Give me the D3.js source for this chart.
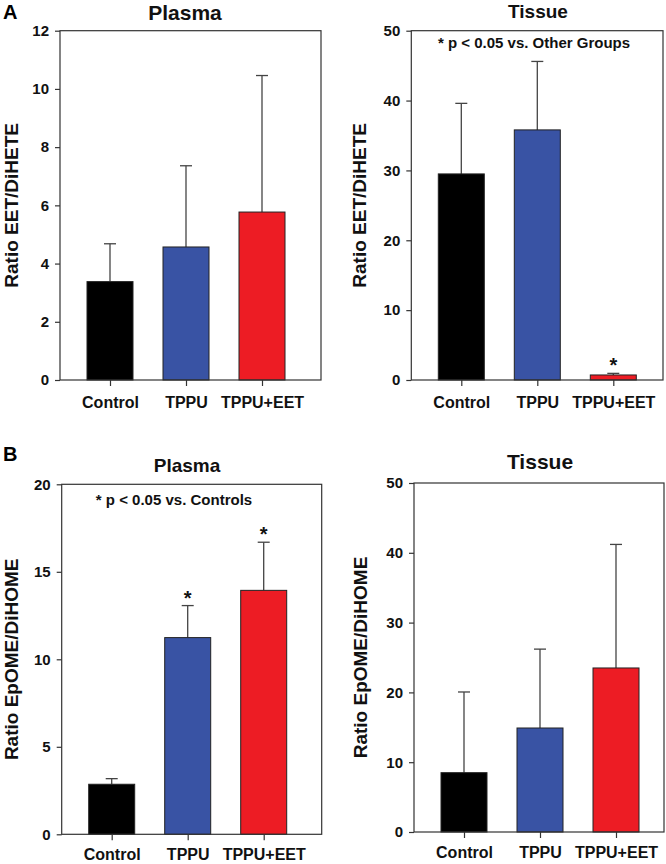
<!DOCTYPE html>
<html>
<head>
<meta charset="utf-8">
<script src="https://cdn.jsdelivr.net/npm/d3@7"></script>
<style>
  html, body { margin: 0; padding: 0; background: #fff; }
  svg { display: block; font-family: "Liberation Sans", Arial, sans-serif; }
</style>
</head>
<body>
<svg id="chart" width="666" height="864"></svg>
<script>
// ---------- DATA ----------
const categories = ["Control", "TPPU", "TPPU+EET"];
const colors = ["#000000", "#3953A4", "#ED1C24"];

// Panel A – Plasma (Ratio EET/DiHETE)
const plasmaEETMean = [3.38, 4.57, 5.77];
const plasmaEETSD   = [1.30, 2.79, 4.69];
const plasmaEETTicks = [0, 2, 4, 6, 8, 10, 12];

// Panel A – Tissue (Ratio EET/DiHETE)
const tissueEETMean = [29.5, 35.8, 0.72];
const tissueEETSD   = [10.1, 9.8, 0.23];
const tissueEETTicks = [0, 10, 20, 30, 40, 50];
const tissueEETSig  = [false, false, true];

// Panel B – Plasma (Ratio EpOME/DiHOME)
const plasmaEpOMEMean = [2.86, 11.24, 13.94];
const plasmaEpOMESD   = [0.32, 1.83, 2.75];
const plasmaEpOMETicks = [0, 5, 10, 15, 20];
const plasmaEpOMESig  = [false, true, true];

// Panel B – Tissue (Ratio EpOME/DiHOME)
const tissueEpOMEMean = [8.5, 14.9, 23.5];
const tissueEpOMESD   = [11.56, 11.3, 17.7];
const tissueEpOMETicks = [0, 10, 20, 30, 40, 50];

// ---------- LAYOUT ----------
const panels = [
  { title: "Plasma", titleSize: 21, titleX: 185, titleY: 19.5, yLabel: "Ratio EET/DiHETE", yLabelX: 17.5,
    mean: plasmaEETMean, sd: plasmaEETSD, ticks: plasmaEETTicks, sig: null, note: null, xPad: 11,
    x0: 60, x1: 321, y0: 30.7, y1: 380 },
  { title: "Tissue", titleSize: 19, titleX: 538, titleY: 17.5, yLabel: "Ratio EET/DiHETE", yLabelX: 366,
    mean: tissueEETMean, sd: tissueEETSD, ticks: tissueEETTicks, sig: tissueEETSig, xPad: 11,
    note: "* p < 0.05 vs. Other Groups", noteX: 534, noteY: 48,
    x0: 411.3, x1: 663, y0: 30.7, y1: 380 },
  { title: "Plasma", titleSize: 19, titleX: 187, titleY: 471.5, yLabel: "Ratio EpOME/DiHOME", yLabelX: 17.5,
    mean: plasmaEpOMEMean, sd: plasmaEpOMESD, ticks: plasmaEpOMETicks, sig: plasmaEpOMESig, xPad: 8,
    note: "* p < 0.05 vs. Controls", noteX: 174, noteY: 505,
    x0: 61.7, x1: 321.7, y0: 484.3, y1: 834.3 },
  { title: "Tissue", titleSize: 21, titleX: 540, titleY: 468.5, yLabel: "Ratio EpOME/DiHOME", yLabelX: 367,
    mean: tissueEpOMEMean, sd: tissueEpOMESD, ticks: tissueEpOMETicks, sig: null, note: null, xPad: 9,
    x0: 414, x1: 664, y0: 483, y1: 832 }
];

const svg = d3.select("#chart");
const axisColor = "#333";

// panel letters
svg.append("text").attr("x", 3).attr("y", 19).attr("font-size", 20).attr("font-weight", "bold").text("A");
svg.append("text").attr("x", 3).attr("y", 460.5).attr("font-size", 20).attr("font-weight", "bold").text("B");

panels.forEach(p => {
  const g = svg.append("g");
  const yMax = p.ticks[p.ticks.length - 1];
  const y = d3.scaleLinear().domain([0, yMax]).range([p.y1, p.y0]);
  const x = d3.scalePoint().domain(categories).range([p.x0 + 50, p.x0 + 202]);
  const barW = 46;

  // title
  g.append("text")
    .attr("x", p.titleX).attr("y", p.titleY)
    .attr("text-anchor", "middle").attr("font-size", p.titleSize).attr("font-weight", "bold")
    .attr("fill", "#111").text(p.title);

  // y label
  g.append("text")
    .attr("transform", `translate(${p.yLabelX},${(p.y0 + p.y1) / 2}) rotate(-90)`)
    .attr("text-anchor", "middle").attr("font-size", 19).attr("font-weight", "bold")
    .attr("fill", "#111").text(p.yLabel);

  const data = categories.map((c, i) => ({ c, m: p.mean[i], sd: p.sd[i], col: colors[i], sig: p.sig ? p.sig[i] : false }));

  // error bars (upper only)
  const eb = g.append("g").attr("stroke", "#444").attr("stroke-width", 1.3);
  data.forEach(d => {
    const cx = x(d.c);
    eb.append("line").attr("x1", cx).attr("x2", cx).attr("y1", y(d.m)).attr("y2", y(d.m + d.sd));
    eb.append("line").attr("x1", cx - 6).attr("x2", cx + 6).attr("y1", y(d.m + d.sd)).attr("y2", y(d.m + d.sd));
  });

  // bars
  g.selectAll("rect.bar").data(data).enter().append("rect")
    .attr("class", "bar")
    .attr("x", d => x(d.c) - barW / 2)
    .attr("width", barW)
    .attr("y", d => y(d.m))
    .attr("height", d => y(0) - y(d.m))
    .attr("fill", d => d.col)
    .attr("stroke", "#222").attr("stroke-width", 1);

  // significance asterisks
  data.filter(d => d.sig).forEach(d => {
    g.append("text").attr("x", x(d.c)).attr("y", y(d.m + d.sd) - 1)
      .attr("text-anchor", "middle").attr("font-size", 20).attr("font-weight", "bold")
      .attr("fill", "#111").text("*");
  });

  // frame
  g.append("rect").attr("x", p.x0).attr("y", p.y0)
    .attr("width", p.x1 - p.x0).attr("height", p.y1 - p.y0)
    .attr("fill", "none").attr("stroke", axisColor).attr("stroke-width", 1.2);

  // y axis
  const yAxis = d3.axisLeft(y).tickValues(p.ticks).tickSize(5).tickSizeOuter(0).tickPadding(6);
  const ya = g.append("g").attr("transform", `translate(${p.x0},0)`).call(yAxis);
  ya.select(".domain").remove();
  ya.selectAll("line").attr("stroke", axisColor).attr("stroke-width", 1.2);
  ya.selectAll("text").attr("font-size", 15).attr("font-weight", "bold").attr("fill", "#111")
    .attr("font-family", "Liberation Sans, Arial, sans-serif");

  // x axis
  const xAxis = d3.axisBottom(x).tickSize(6).tickSizeOuter(0).tickPadding(p.xPad);
  const xa = g.append("g").attr("transform", `translate(0,${p.y1})`).call(xAxis);
  xa.select(".domain").remove();
  xa.selectAll("line").attr("stroke", axisColor).attr("stroke-width", 1.2);
  xa.selectAll("text").attr("font-size", 16).attr("font-weight", "bold").attr("fill", "#111")
    .attr("font-family", "Liberation Sans, Arial, sans-serif");

  // note
  if (p.note) {
    g.append("text").attr("x", p.noteX).attr("y", p.noteY)
      .attr("text-anchor", "middle").attr("font-size", 15).attr("font-weight", "bold")
      .attr("fill", "#111").text(p.note);
  }
});
</script>
</body>
</html>
